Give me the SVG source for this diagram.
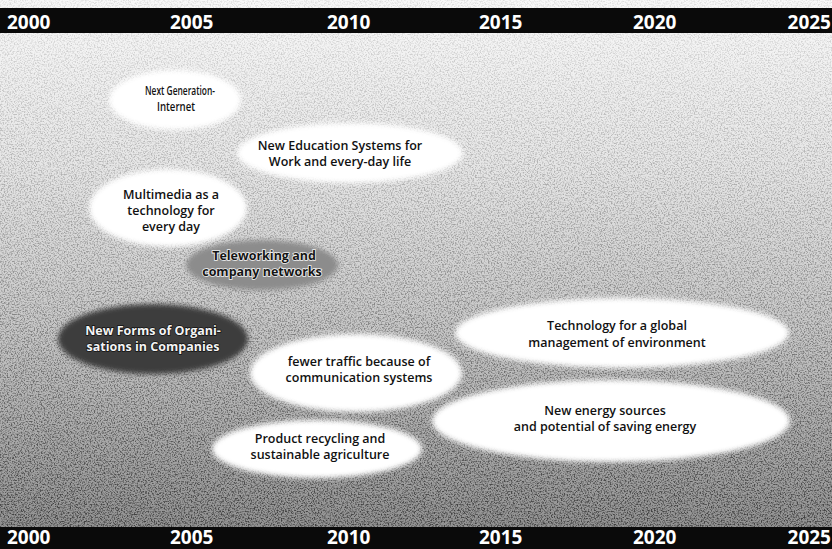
<svg xmlns="http://www.w3.org/2000/svg" width="832" height="549" viewBox="0 0 832 549">
  <style>
    .bar { fill: #0a0a0a; }
    .year { font-family: "Open Sans", "Liberation Sans", sans-serif; font-weight: 700; font-size: 19px; fill: #ffffff; }
    .lbl { font-family: "Open Sans", "Liberation Sans", sans-serif; font-weight: 600; font-size: 12.5px; fill: #111; text-anchor: middle; }
    .bubble { fill: #ffffff; filter: url(#soft); }
    .tele { fill: #8c8c8c; filter: url(#soft); }
    .orga { fill: #3c3c3c; filter: url(#soft); }
    .onGrey { font-weight: 700; fill: #151515; stroke: #f2f2f2; stroke-width: 1.6; paint-order: stroke; }
    .onDark { font-weight: 700; fill: #f4f4f4; stroke: #111; stroke-width: 1.4; paint-order: stroke; }
  </style>
  <defs>
    <linearGradient id="bg" x1="0" y1="0" x2="0" y2="1">
      <stop offset="0" stop-color="#f8f8f8"/>
      <stop offset="0.3" stop-color="#e6e6e6"/>
      <stop offset="0.6" stop-color="#c6c6c6"/>
      <stop offset="1" stop-color="#8c8c8c"/>
    </linearGradient>
    <linearGradient id="grainFade" x1="0" y1="0" x2="0" y2="1">
      <stop offset="0" stop-color="#fff" stop-opacity="0.1"/>
      <stop offset="0.5" stop-color="#fff" stop-opacity="0.3"/>
      <stop offset="1" stop-color="#fff" stop-opacity="0.6"/>
    </linearGradient>
    <mask id="grainMask" maskContentUnits="userSpaceOnUse">
      <rect x="0" y="0" width="832" height="549" fill="url(#grainFade)"/>
    </mask>
    <filter id="grain" x="0" y="0" width="100%" height="100%">
      <feTurbulence type="fractalNoise" baseFrequency="0.7" numOctaves="2" seed="7" result="n"/>
      <feColorMatrix in="n" type="matrix" values="0 0 0 0 0  0 0 0 0 0  0 0 0 0 0  3.4 0 0 0 -1.5"/>
    </filter>
    <filter id="soft" x="-20%" y="-30%" width="140%" height="160%">
      <feGaussianBlur stdDeviation="2.5"/>
    </filter>
  </defs>

  <!-- paper background with print grain, heavier towards the bottom -->
  <rect x="0" y="0" width="832" height="549" fill="url(#bg)"/>
  <rect x="0" y="0" width="832" height="549" fill="#000" filter="url(#grain)" mask="url(#grainMask)"/>

  <!-- time scale bars -->
  <g id="scale-top">
    <rect class="bar" x="0" y="8" width="832" height="25"/>
    <text class="year" x="7" y="29">2000</text>
    <text class="year" x="170" y="29">2005</text>
    <text class="year" x="327" y="29">2010</text>
    <text class="year" x="479" y="29">2015</text>
    <text class="year" x="633" y="29">2020</text>
    <text class="year" x="831" y="29" text-anchor="end">2025</text>
  </g>
  <g id="scale-bottom">
    <rect class="bar" x="0" y="527" width="832" height="22"/>
    <text class="year" x="7" y="544">2000</text>
    <text class="year" x="170" y="544">2005</text>
    <text class="year" x="327" y="544">2010</text>
    <text class="year" x="479" y="544">2015</text>
    <text class="year" x="633" y="544">2020</text>
    <text class="year" x="831" y="544" text-anchor="end">2025</text>
  </g>

  <!-- topic bubbles -->
  <g id="next-generation-internet">
    <ellipse class="bubble" cx="175" cy="100" rx="66" ry="30"/>
    <text class="lbl" x="180" y="95" font-size="12" textLength="70" lengthAdjust="spacingAndGlyphs">Next  Generation-</text>
    <text class="lbl" x="176" y="111" font-size="12" textLength="38" lengthAdjust="spacingAndGlyphs">Internet</text>
  </g>
  <g id="new-education-systems">
    <ellipse class="bubble" cx="350" cy="153" rx="113" ry="30"/>
    <text class="lbl" x="340" y="150">New Education Systems for</text>
    <text class="lbl" x="340" y="166">Work and every-day life</text>
  </g>
  <g id="multimedia">
    <ellipse class="bubble" cx="168" cy="208" rx="79" ry="39"/>
    <text class="lbl" x="171" y="199">Multimedia as a</text>
    <text class="lbl" x="171" y="215">technology for</text>
    <text class="lbl" x="171" y="231">every day</text>
  </g>
  <g id="teleworking">
    <ellipse class="tele" cx="262" cy="265" rx="76" ry="25"/>
    <text class="lbl onGrey" x="264" y="260">Teleworking and</text>
    <text class="lbl onGrey" x="262" y="276">company networks</text>
  </g>
  <g id="new-forms-of-organisations">
    <ellipse class="orga" cx="153" cy="339" rx="95" ry="35"/>
    <text class="lbl onDark" x="153" y="335">New Forms of Organi-</text>
    <text class="lbl onDark" x="153" y="351">sations in Companies</text>
  </g>
  <g id="fewer-traffic">
    <ellipse class="bubble" cx="356" cy="373" rx="106" ry="39"/>
    <text class="lbl" x="359" y="366">fewer traffic because of</text>
    <text class="lbl" x="359" y="382">communication systems</text>
  </g>
  <g id="global-environment">
    <ellipse class="bubble" cx="622" cy="333" rx="167" ry="35"/>
    <text class="lbl" x="617" y="330">Technology for a global</text>
    <text class="lbl" x="617" y="347">management of environment</text>
  </g>
  <g id="energy-sources">
    <ellipse class="bubble" cx="611" cy="421" rx="179" ry="41"/>
    <text class="lbl" x="605" y="415">New energy sources</text>
    <text class="lbl" x="605" y="431">and potential of saving energy</text>
  </g>
  <g id="product-recycling">
    <ellipse class="bubble" cx="317" cy="449" rx="105" ry="29"/>
    <text class="lbl" x="320" y="443">Product recycling and</text>
    <text class="lbl" x="320" y="459">sustainable agriculture</text>
  </g>
</svg>
